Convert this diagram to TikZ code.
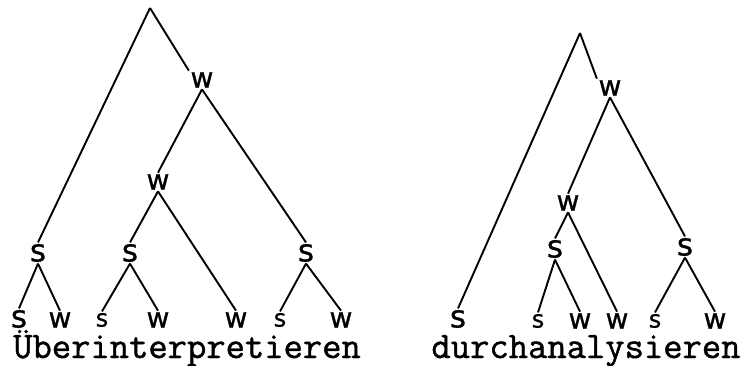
\documentclass[tikz,border=0pt]{standalone}
\usepackage{fontspec}
\newfontfamily\labfont{DejaVu Sans}[FakeBold=0.8]
\newfontfamily\wordfont{Latin Modern Mono}[FakeBold=1.2]
\begin{document}
\begin{tikzpicture}[x=1pt,y=-1pt,
  lab/.style={inner sep=1.5pt,font=\labfont\fontsize{28}{28}\selectfont},
  biglab/.style={inner sep=1.5pt,font=\labfont\fontsize{31}{31}\selectfont},
  smalllab/.style={inner sep=1.5pt,font=\labfont\fontsize{24}{24}\selectfont},
  word/.style={inner sep=0pt,anchor=base,font=\wordfont\fontsize{37.5}{38}\selectfont},
  edge/.style={line width=1.9pt}]
\useasboundingbox (0,0) rectangle (746,365);
% left tree
\coordinate (rootL) at (150,8);
\node[lab] (wL1) at (202,80) {w};
\node[lab] (wL2) at (158,182) {w};
\node[biglab] (sL1) at (38,253) {s};
\node[biglab] (sL2) at (130,253) {s};
\node[biglab] (sL3) at (306,253) {s};
\node[biglab] (bL1) at (19,319) {s};
\node[lab] (bL2) at (60,320) {w};
\node[smalllab] (bL3) at (102,320) {s};
\node[lab] (bL4) at (158,320) {w};
\node[lab] (bL5) at (236,320) {w};
\node[smalllab] (bL6) at (280,320) {s};
\node[lab] (bL7) at (341,320) {w};
\node[word] (wordL) at (187,358) {Überinterpretieren};
\draw[edge] (rootL) -- (sL1.north);
\draw[edge] (rootL) -- (wL1.north west);
\draw[edge] (wL1.south) -- (wL2.north);
\draw[edge] (wL1.south) -- (sL3.north);
\draw[edge] (wL2.south) -- (sL2.north);
\draw[edge] (wL2.south) -- (bL5.north);
\draw[edge] (sL1.south) -- (bL1.north);
\draw[edge] (sL1.south) -- (bL2.north);
\draw[edge] (sL2.south) -- (bL3.north);
\draw[edge] (sL2.south) -- (bL4.north);
\draw[edge] (sL3.south) -- (bL6.north);
\draw[edge] (sL3.south) -- (bL7.north);
% right tree
\coordinate (rootR) at (580,33);
\node[lab] (wR1) at (610,88) {w};
\node[lab] (wR2) at (568,203) {w};
\node[biglab] (sR2) at (555,249) {s};
\node[biglab] (sR3) at (685,247) {s};
\node[biglab] (bR1) at (458,319) {s};
\node[smalllab] (bR2) at (538,321) {s};
\node[lab] (bR3) at (580,321) {w};
\node[lab] (bR4) at (617,321) {w};
\node[smalllab] (bR5) at (655,321) {s};
\node[lab] (bR6) at (715,321) {w};
\node[word] (wordR) at (586,358) {durchanalysieren};
\draw[edge] (rootR) -- (bR1.north);
\draw[edge] (rootR) -- (wR1.north west);
\draw[edge] (wR1.south) -- (wR2.north);
\draw[edge] (wR1.south) -- (sR3.north);
\draw[edge] (wR2.south) -- (sR2.north);
\draw[edge] (wR2.south) -- (bR4.north);
\draw[edge] (sR2.south) -- (bR2.north);
\draw[edge] (sR2.south) -- (bR3.north);
\draw[edge] (sR3.south) -- (bR5.north);
\draw[edge] (sR3.south) -- (bR6.north);
\end{tikzpicture}
\end{document}
